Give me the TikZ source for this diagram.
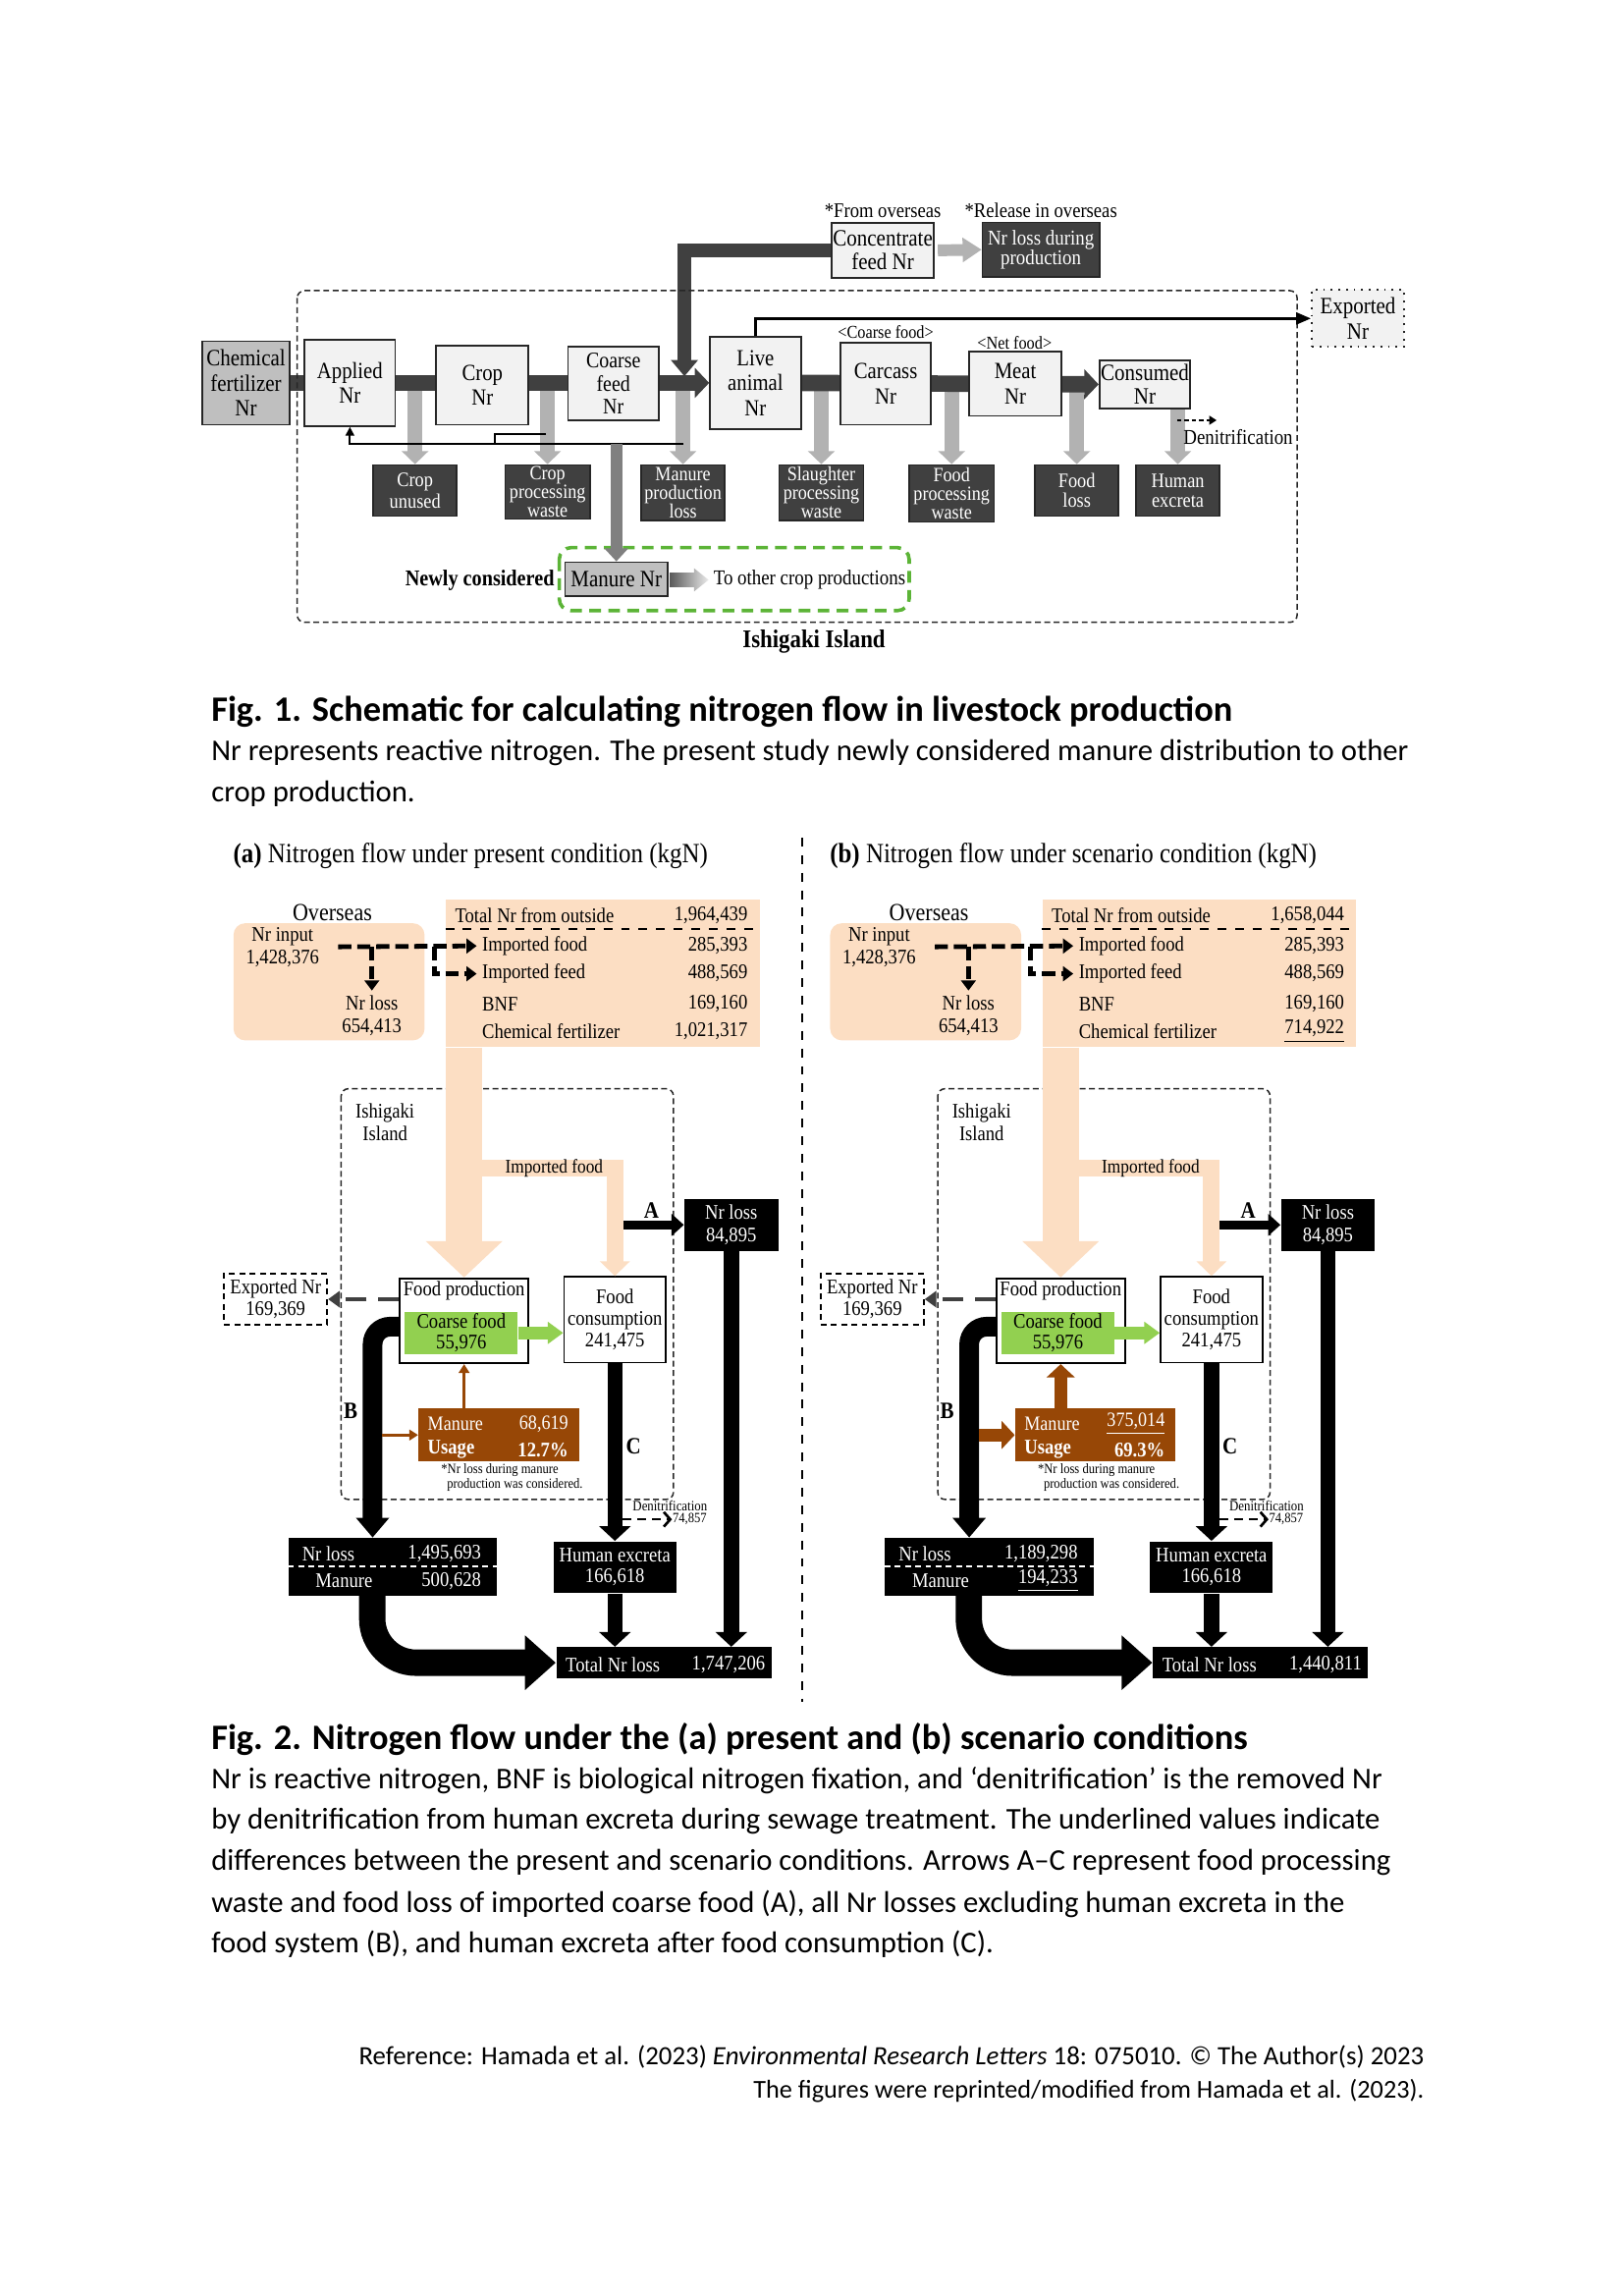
\documentclass[tikz,border=0pt]{standalone}
\usepackage{fontspec}
\setmainfont{Liberation Serif}[FakeStretch=0.88]
\newfontfamily\capfont{Carlito}
\usepackage{xcolor}
\usetikzlibrary{positioning,arrows.meta,backgrounds}

\definecolor{boxgray}{RGB}{242,242,242}
\definecolor{chemgray}{RGB}{191,191,191}
\definecolor{darkbox}{RGB}{64,64,64}
\definecolor{lossgray}{RGB}{178,178,178}
\definecolor{newgreen}{RGB}{92,180,55}
\definecolor{peach}{RGB}{252,222,195}
\definecolor{coarsegreen}{RGB}{146,208,80}
\definecolor{manurebrown}{RGB}{151,71,6}

\newcommand{\fsz}[2]{\fontsize{#1}{#2}\selectfont}

% one panel of Fig. 2
\newcommand{\flowpanel}[9]{%
  % --- Island frame and title ---
  \draw[islandline] (233,743.5) rectangle (460,1024);
  \node[anchor=west, font=\fsz{9.5}{10}] (title) at (159,584.5) {#1};
  \node (island) at (263,766.5) {Ishigaki\\Island};

  % --- Overseas ---
  \node[fill=peach, rounded corners=4pt, minimum width=65.25pt, minimum height=40pt] (ovsbox) at (224.75,670.5) {};
  \node[font=\fsz{8.4}{9}] (ovs) at (227,623) {Overseas};
  \node (nrin) at (193,647) {Nr input\\1,428,376};
  \node (nrout) at (254,693.5) {Nr loss\\654,413};

  % --- Nr from outside ---
  \node[fill=peach, minimum width=107.2pt, minimum height=50.25pt] (tbl) at (411.8,664.75) {};
  \draw[dashed, line width=0.5pt] ([yshift=-10.1pt]tbl.north west) -- ([yshift=-10.1pt]tbl.north east);
  \node[rowl] (rtot) at (310.5,625) {Total Nr\ from outside};
  \node[rowr] (vtot) at (511,625) {#2};
  \node[rowl] (rfood) at (329,646) {Imported food};
  \node[rowr] (vfood) at (511,646) {285,393};
  \node[rowl] (rfeed) at (329,665) {Imported feed};
  \node[rowr] (vfeed) at (511,665) {488,569};
  \node[rowl] (rbnf) at (329,685.6) {BNF};
  \node[rowr] (vbnf) at (511,685.6) {169,160};
  \node[rowl] (rchem) at (329,704.5) {Chemical\ fertilizer};
  \node[rowr] (vchem) at (511,704.5) {#3};

  % --- Food system ---
  \node[whitebox, minimum width=44pt, minimum height=29pt] (fprod) at (317,902) {};
  \node[anchor=north] (fprodlbl) at ([yshift=-1.2pt]fprod.north) {Food production};
  \node[fill=coarsegreen, minimum width=38.5pt, minimum height=14.25pt, font=\fsz{7.1}{7}] (coarse) at (315.1,910.25) {Coarse food\\55,976};
  \node[whitebox, minimum width=34.7pt, minimum height=29.25pt, font=\fsz{7.1}{7.5}] (fcons) at (420,901.25) {Food\\consumption\\241,475};
  \node[whitebox, dash pattern=on 2pt off 1.5pt, minimum width=35.25pt, minimum height=17.25pt, font=\fsz{7.1}{7.5}] (exp) at (188.25,887.25) {Exported Nr\\169,369};

  % --- Manure ---
  \node[fill=manurebrown, minimum width=54.75pt, minimum height=18pt] (manbox) at (340.75,980) {};
  \node[brtxt, anchor=west] (manlbl) at (291.8,972.6) {Manure};
  \node[brtxt, anchor=east] (manval) at (388.5,972.6) {#4};
  \node[brtxt, anchor=west, font=\bfseries\fsz{7.1}{7.5}] (uselbl) at (291.8,990) {Usage};
  \node[brtxt, anchor=east, font=\bfseries\fsz{7.1}{7.5}] (useval) at (388.5,990) {#5};
  \node[notetxt] (note1) at (301,1004) {*Nr loss during manure};
  \node[notetxt] (note2) at (305,1014) {production was considered.};

  % --- Losses ---
  \node[blackbox, minimum width=32pt, minimum height=17.75pt] (nrlossA) at (499.5,836.5) {Nr loss\\84,895};
  \node[blackbox, minimum width=71.25pt, minimum height=19.8pt] (nrlossbig) at (268.25,1069.8) {};
  \draw[white, line width=0.6pt, dash pattern=on 2pt off 1.5pt] (nrlossbig.west) -- (nrlossbig.east);
  \node[wtxt, anchor=west] (lossl) at (206,1061) {Nr loss};
  \node[wtxt, anchor=east] (lossv) at (329,1061) {#6};
  \node[wtxt] (manl) at (235,1079.6) {Manure};
  \node[wtxt, anchor=east] (manv) at (329,1079.6) {#7};
  \node[blackbox, minimum width=41.9pt, minimum height=17.65pt, font=\fsz{7.1}{7}] (excr) at (420,1070.35) {Human excreta\\166,618};
  \node[blackbox, minimum width=73.5pt, minimum height=10.5pt] (total) at (453.5,1135.5) {};
  \node[wtxt, anchor=west] (totl) at (386,1137) {Total Nr loss};
  \node[wtxt, anchor=east] (totv) at (523,1137) {#8};
  \node[lettr] (labA) at (445,826.5) {A};
  \node[lettr] (labB) at (239.5,963.5) {B};
  \node[lettr] (labC) at (432.7,987.4) {C};
  \node[font=\fsz{4.9}{5}] (dnlbl) at (457.6,1028.7) {Denitrification};
  \node[anchor=west, font=\fsz{4.8}{5}] (dnval) at (459,1037.6) {74,857};

  % --- Flows ---
  \draw[peachflow] (tbl.south -| fprod.north) -- (fprod.north);
  \coordinate (fsplit) at (317,798);
  \draw[peachbranch] (fsplit) -| (fcons.north);
  \node[font=\fsz{6.6}{7}] (implbl) at (378.5,798) {Imported food};
  \coordinate (inp) at (231,646.6);
  \coordinate (split) at (296.6,646.6);
  \draw[impdash] (inp) -- ([xshift=-1.7pt]rfood.west);
  \draw[impdash, shorten >=1.5pt] (inp -| nrout.north) -- (nrout.north);
  \draw[impdash] (split) |- ([xshift=-1.7pt]rfeed.west);
  \coordinate (astart) at (425.75,836.5);
  \draw[aflow] (astart) -- (nrlossA.west);
  \draw[blkflow] (nrlossA.south) -- (nrlossA.south |- total.north);
  \draw[greenflow] (coarse.east) -- (coarse.east -| fcons.west);
  \draw[expflow] (fprod.west |- exp.east) -- (exp.east);
  \coordinate (bend) at (254.5,1050);
  \draw[bflow] ([yshift=-2pt]fprod.west) -| (bend);
  \coordinate (bside) at (261,980);
  \draw[#9] (bside) -- (manbox.west);
  \draw[#9] (manbox.north -| fprod.south) -- (fprod.south);
  \draw[blkflow] (fcons.south) -- (excr.north);
  \coordinate (dnstart) at (425.5,1037.6);
  \draw[denit] (dnstart) -- (dnval.west);
  \draw[blkflow] (excr.south) -- (excr.south |- total.north);
  \coordinate (bigstart) at (254.25,1089.6);
  \draw[bigflow] (bigstart) |- (total.west);
}

\begin{document}
\begin{tikzpicture}[x=0.5pt, y=-0.5pt,
    every node/.style={inner sep=0pt, align=center, font=\fsz{7.1}{7.6}},
    nrbox/.style={draw=black!85, line width=0.6pt, fill=boxgray, font=\fsz{7.9}{8.6}},
    lossbox/.style={draw=black!85, line width=0.5pt, fill=darkbox, text=white, anchor=north, font=\fsz{6.9}{6.3}},
    mainband/.style={draw=darkbox, line width=5.6pt, -{Triangle[length=4.9pt,width=10pt]}},
    feedband/.style={draw=darkbox, line width=4.5pt, -{Triangle[length=5.6pt,width=9pt]}},
    lossdown/.style={draw=lossgray, line width=4.9pt, -{Triangle[length=4.5pt,width=9pt]}},
    fine/.style={draw=black, line width=0.6pt},
    fineto/.style={fine, -{Triangle[length=3pt,width=3pt]}},
    manurebar/.style={draw=black!50, line width=4pt, -{Triangle[length=4.5pt,width=8pt]}},
    islandline/.style={draw=black!85, line width=0.5pt, dash pattern=on 2pt off 1.2pt, rounded corners=2.5pt},
    newline/.style={draw=newgreen, line width=1.2pt, dash pattern=on 4pt off 2.5pt, rounded corners=4pt},
    lbltxt/.style={font=\fsz{7.1}{8}},
    captxt/.style={anchor=west, font=\capfont\fsz{10.3}{12}},
    captitle/.style={anchor=west, font=\capfont\bfseries\fsz{12.2}{14}},
    reftxt/.style={anchor=east, font=\capfont\fsz{9}{11}},
    whitebox/.style={draw=black, line width=0.6pt, fill=white},
    blackbox/.style={fill=black, text=white},
    wtxt/.style={text=white},
    brtxt/.style={text=white, font=\fsz{6.9}{7.5}},
    notetxt/.style={anchor=west, font=\fsz{4.8}{5}},
    rowl/.style={anchor=west},
    rowr/.style={anchor=east},
    lettr/.style={font=\bfseries\fsz{8}{8}},
    peachflow/.style={draw=peach, line width=12.45pt, -{Triangle[length=12.4pt,width=25.5pt]}},
    peachbranch/.style={draw=peach, line width=5.75pt, -{Triangle[length=5pt,width=10pt]}},
    impdash/.style={draw=black, line width=1.6pt, dash pattern=on 4.5pt off 2pt, -{Triangle[length=3.5pt,width=5pt]}},
    blkflow/.style={draw=black, line width=5.2pt, -{Triangle[length=5pt,width=10.5pt]}},
    aflow/.style={draw=black, line width=3.1pt, -{Triangle[length=4.2pt,width=7.3pt]}},
    bflow/.style={draw=black, line width=6.7pt, rounded corners=6pt, -{Triangle[length=6.75pt,width=11pt]}},
    bigflow/.style={draw=black, line width=9pt, rounded corners=15pt, -{Triangle[length=10.5pt,width=18pt]}},
    greenflow/.style={draw=coarsegreen, line width=4.4pt, -{Triangle[length=5.3pt,width=7.3pt]}},
    expflow/.style={draw=darkbox, line width=1.4pt, dash pattern=on 7pt off 4pt, -{Triangle[length=4pt,width=5.5pt]}},
    manthin/.style={draw=manurebrown, line width=0.9pt, -{Triangle[length=3pt,width=3.6pt]}},
    manthick/.style={draw=manurebrown, line width=4.4pt, -{Triangle[length=4.5pt,width=9.4pt]}},
    denit/.style={draw=black, line width=0.9pt, dash pattern=on 3pt off 2pt, -{Straight Barb[length=2.2pt,width=5pt]}},
]
\path[use as bounding box] (0,0) rectangle (1109,1568);

% --- Fig. 1: island ---
\draw[islandline] (203,198.5) rectangle (886,425);
\node[font=\bfseries\fsz{8.7}{9}] (islandlbl) at (556,438) {Ishigaki Island};

% --- From overseas ---
\node[lbltxt] (fromovs) at (603,144) {*From overseas};
\node[lbltxt] (relovs) at (711,144) {*Release in overseas};
\node[nrbox, font=\fsz{8}{8}, minimum width=35pt, minimum height=19pt] (conc) at (603,171) {Concentrate\\feed Nr};
\node[lossbox, anchor=center, font=\fsz{7.2}{6.8}, minimum width=40pt, minimum height=18.5pt] (lossprod) at (711,170.5) {Nr loss during\\production};

% --- Nr chain ---
\node[nrbox, fill=chemgray, font=\fsz{8}{8.6}, minimum width=30pt, minimum height=28.5pt] (chemfert) at (168,261.5) {Chemical\\fertilizer\\Nr};
\node[nrbox, minimum width=31pt, minimum height=29.5pt] (applied) at (239,261.5) {Applied\\Nr};
\node[nrbox, minimum width=31.5pt, minimum height=27pt] (crop) at (329.5,263) {Crop\\Nr};
\node[nrbox, font=\fsz{7.6}{7.9}, minimum width=31pt, minimum height=25pt] (coarse) at (419,262) {Coarse\\feed\\Nr};
\node[nrbox, font=\fsz{7.9}{8.5}, minimum width=31pt, minimum height=31.5pt] (live) at (516,261.5) {Live\\animal\\Nr};
\node[nrbox, minimum width=31pt, minimum height=28pt] (carcass) at (605,262) {Carcass\\Nr};
\node[nrbox, minimum width=31.5pt, minimum height=22pt] (meat) at (693.5,262) {Meat\\Nr};
\node[nrbox, font=\fsz{8}{8}, minimum width=31pt, minimum height=16.5pt] (consumed) at (782,262.5) {Consumed\\Nr};
\node[nrbox, dotted, font=\fsz{8}{8.5}, minimum width=31.5pt, minimum height=19.5pt] (exported) at (927.5,217.5) {Exported\\Nr};
\node[font=\fsz{6.2}{7}] (coarselbl) at (605,227) {<Coarse food>};
\node[font=\fsz{6.2}{7}] (netlbl) at (693,234) {<Net food>};

% --- Losses ---
\node[lossbox, font=\fsz{7}{7.5}, minimum width=28.5pt, minimum height=17.5pt] (cropunused) at (283.5,317) {Crop\\unused};
\node[lossbox, minimum width=29pt, minimum height=18.5pt] (cropproc) at (374,317) {Crop\\processing\\waste};
\node[lossbox, minimum width=28.5pt, minimum height=19pt] (manloss) at (466.5,317) {Manure\\production\\loss};
\node[lossbox, minimum width=29pt, minimum height=19pt] (slaughter) at (561,317) {Slaughter\\processing\\waste};
\node[lossbox, minimum width=29pt, minimum height=19.5pt] (foodproc) at (650,317) {Food\\processing\\waste};
\node[lossbox, font=\fsz{7}{6.6}, minimum width=28.5pt, minimum height=17.5pt] (foodloss) at (735.5,317) {Food\\loss};
\node[lossbox, font=\fsz{7}{6.6}, minimum width=28.5pt, minimum height=17.5pt] (excreta) at (804.5,317) {Human\\excreta};

% --- Newly considered ---
\node[nrbox, fill=chemgray, font=\fsz{8}{8}, minimum width=35pt, minimum height=11.5pt] (manurenr) at (421,395.5) {Manure Nr};
\node[anchor=east, font=\bfseries\fsz{7.7}{8}] (newlbl) at (379,396.5) {Newly considered};
\node[anchor=west, font=\fsz{7.2}{8}] (otherlbl) at (487,396) {To other crop productions};
\draw[newline] (382,374) rectangle (621,417);
\shade[left color=black!65, right color=black!8] (457.5,391) -- (474,391) -- (474,388) -- (484,396) -- (474,404) -- (474,401) -- (457.5,401) -- cycle;

% --- Bands ---
\begin{scope}[on background layer]
\draw[lossdown] (cropunused.north |- chemfert.east) -- (cropunused.north);
\draw[lossdown] (cropproc.north |- chemfert.east) -- (cropproc.north);
\draw[lossdown] (manloss.north |- chemfert.east) -- (manloss.north);
\draw[lossdown] (slaughter.north |- chemfert.east) -- (slaughter.north);
\draw[lossdown] (foodproc.north |- chemfert.east) -- (foodproc.north);
\draw[lossdown] (foodloss.north |- chemfert.east) -- (foodloss.north);
\draw[lossdown] (excreta.north |- consumed.south) -- (excreta.north);
\draw[mainband] (chemfert.east) -- (live.west);
\draw[mainband] (live.east) -- (consumed.west);
\coordinate (feedin) at (467.5,257);
\draw[feedband] (conc.west) -| (feedin);
\end{scope}

% --- Thin arrows ---
\draw[draw=lossgray, line width=4pt, shorten <=1pt, -{Triangle[length=6.5pt,width=8pt]}] (conc.east) -- (lossprod.west);
\draw[fine, line width=0.9pt, -{Triangle[length=5pt,width=4pt]}] (live.north) |- (exported.west);
\coordinate (fbstart) at (467,303);
\coordinate (bumpa) at (373,296.5);
\coordinate (bumpb) at (338,303);
\draw[fineto] (fbstart) -| (applied.south);
\draw[fine] (bumpa) -| (bumpb);
\draw[manurebar] (manurenr.north |- fbstart) -- (manurenr.north);
\coordinate (dn1) at (804,287);
\coordinate (dn2) at (831,287);
\draw[fine, dash pattern=on 1.5pt off 1pt, -{Triangle[length=2.5pt,width=3pt]}] (dn1) -- (dn2);
\node[anchor=west, font=\fsz{7.2}{8}] (denitlbl) at (808,298.5) {Denitrification};

% --- Fig. 1 caption ---
\node[captitle] (fig1cap) at (144,486) {Fig. 1. Schematic for calculating nitrogen flow in livestock production};
\node[captxt] (fig1l1) at (144,514) {Nr represents reactive nitrogen. The present study newly considered manure distribution to other};
\node[captxt] (fig1l2) at (144,542) {crop production.};

% --- Fig. 2 (a) ---
\begin{scope}[name prefix=a-]
\flowpanel{\textbf{(a)} Nitrogen\ flow under present condition (kgN)}{1,964,439}{1,021,317}{68,619}{12.7\%}{1,495,693}{500,628}{1,747,206}{manthin}
\end{scope}

% --- Fig. 2 (b) ---
\begin{scope}[shift={(407.5,0)}, name prefix=b-]
\flowpanel{\textbf{(b)} Nitrogen\ flow under scenario condition (kgN)}{1,658,044}{\underline{714,922}}{\underline{375,014}}{69.3\%}{1,189,298}{\underline{194,233}}{1,440,811}{manthick}
\end{scope}
\draw[dashed, line width=0.5pt] (548,572) -- (548,1162);

% --- Fig. 2 caption ---
\node[captitle] (fig2cap) at (144,1188) {Fig. 2. Nitrogen flow under the (a) present and (b) scenario conditions};
\node[captxt] (fig2l1) at (144,1216) {Nr is reactive nitrogen, BNF is biological nitrogen fixation, and ‘denitrification’ is the removed Nr};
\node[captxt] (fig2l2) at (144,1244) {by denitrification from human excreta during sewage treatment. The underlined values indicate};
\node[captxt] (fig2l3) at (144,1272) {differences between the present and scenario conditions. Arrows A–C represent food processing};
\node[captxt] (fig2l4) at (144,1300) {waste and food loss of imported coarse food (A), all Nr losses excluding human excreta in the};
\node[captxt] (fig2l5) at (144,1328) {food system (B), and human excreta after food consumption (C).};

% --- Reference ---
\node[reftxt] (ref1) at (973,1405) {Reference: Hamada et al. (2023) \textit{Environmental Research Letters} 18: 075010. © The Author(s) 2023};
\node[reftxt, font=\capfont\fsz{8.8}{11}] (ref2) at (973,1428) {The figures were reprinted/modified from Hamada et al. (2023).};
\end{tikzpicture}
\end{document}
